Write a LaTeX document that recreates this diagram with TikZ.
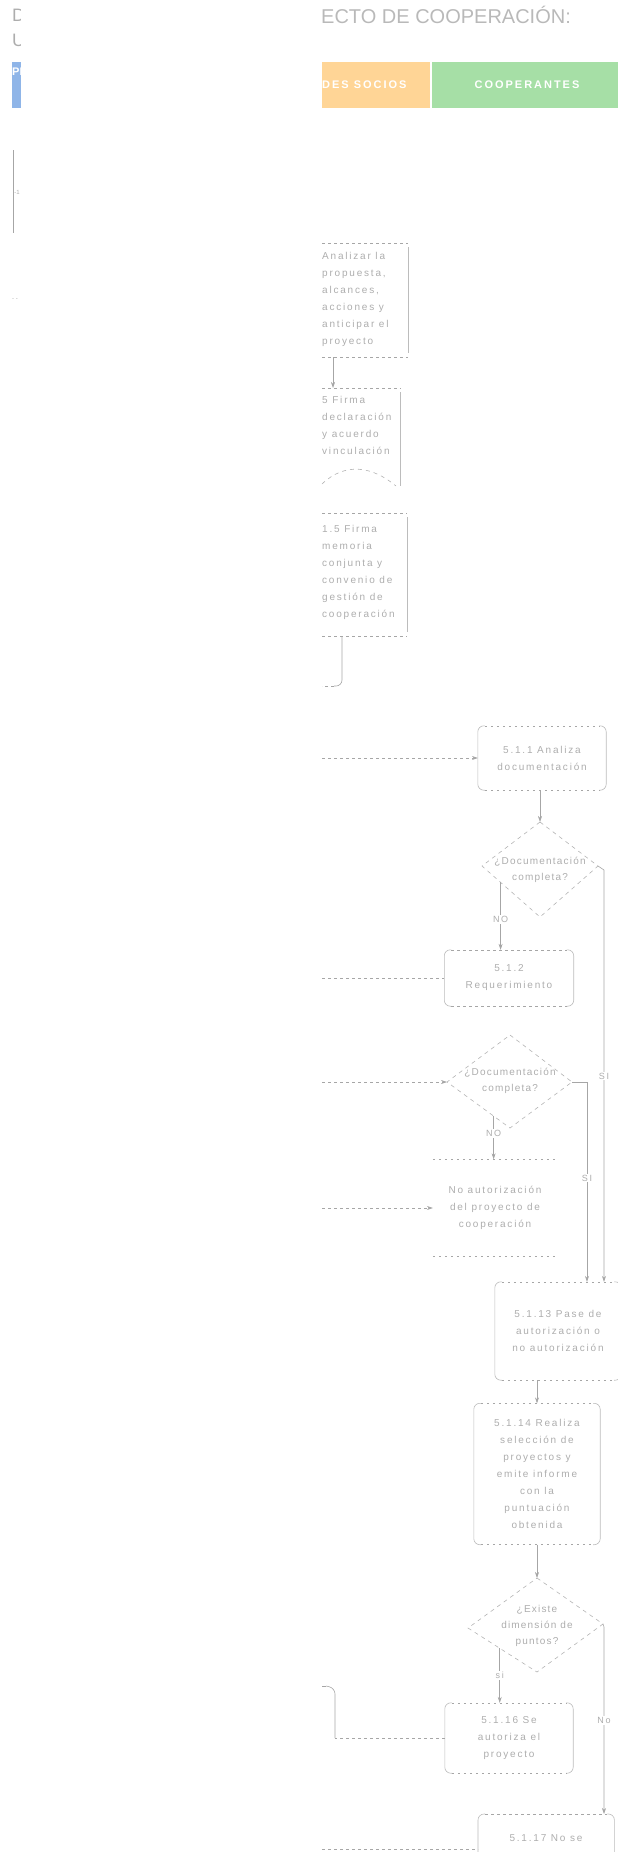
\documentclass[tikz,border=0pt]{standalone}
\usepackage{fontspec}
\setmainfont{Liberation Sans}
\newfontfamily\spc[LetterSpace=18]{Liberation Sans}
\newfontfamily\spd[LetterSpace=12]{Liberation Sans}
\usetikzlibrary{arrows.meta,calc}
\definecolor{txt}{HTML}{ADADAD}
\definecolor{ln}{HTML}{A6A6A6}
\definecolor{lanebl}{HTML}{8FB5E8}
\definecolor{laneor}{HTML}{FFD596}
\definecolor{lanegr}{HTML}{A6DFA6}
\newcommand\mybox[1]{%
  \draw[sd, rounded corners=6pt] ($(#1.north west)+(7,0)$) -- (#1.north west) -- (#1.south west) -- ($(#1.south west)+(7,0)$);
  \draw[sd, rounded corners=6pt] ($(#1.north east)+(-7,0)$) -- (#1.north east) -- (#1.south east) -- ($(#1.south east)+(-7,0)$);
  \draw[dt] ($(#1.north west)+(7,0)$) -- ($(#1.north east)+(-7,0)$);
  \draw[dt] ($(#1.south west)+(7,0)$) -- ($(#1.south east)+(-7,0)$);
}
\begin{document}
\begin{tikzpicture}[x=1pt,y=-1pt,
  t/.style={text=txt, font=\spc\fontsize{10}{17}\selectfont, inner sep=0pt, align=center},
  td/.style={t, font=\spd\fontsize{10}{16}\selectfont},
  tl/.style={t, align=left},
  sd/.style={draw=ln!75, line width=0.6pt},
  sl/.style={draw=ln, line width=0.6pt},
  dt/.style={draw=ln, line width=0.6pt, dash pattern=on 2.5pt off 3.5pt},
  dl/.style={draw=ln, line width=0.6pt, dash pattern=on 3pt off 3pt},
  dd/.style={draw=ln!85, line width=0.6pt, dash pattern=on 4pt off 4pt},
  tip/.style={-{Stealth[length=6pt,width=4pt]}},
  lab/.style={text=txt, font=\spc\fontsize{9}{11}\selectfont, inner sep=1pt, fill=white},
  hold/.style={inner sep=0pt, draw=none},
]
\useasboundingbox (0,0) rectangle (618,1852);
\clip (0,0) rectangle (618,1852);

% ---------- headers ----------
\node[anchor=west, text=txt!85, font=\fontsize{20}{24}\selectfont, inner sep=0pt] (title) at (321,15) {ECTO DE COOPERACIÓN:};
\begin{scope}
  \clip (10,0) rectangle (20,60);
  \node[anchor=west, text=txt, font=\fontsize{18}{20}\selectfont, inner sep=0pt] (lt1) at (12,15) {DI};
  \node[anchor=west, text=txt, font=\fontsize{18}{20}\selectfont, inner sep=0pt] (lt2) at (12,40) {UN};
\end{scope}

\fill[lanebl] (12,62) rectangle (21,108);
\begin{scope}
  \clip (12,62) rectangle (21,108);
  \node[anchor=west, text=white, font=\bfseries\fontsize{11}{13}\selectfont, inner sep=0pt] (lbl) at (12,72) {PR};
\end{scope}
\fill[laneor] (322,62) rectangle (430,108);
\fill[lanegr] (432,62) rectangle (618,108);
\node[anchor=west, text=white, font=\bfseries\spc\fontsize{11}{13}\selectfont, inner sep=0pt] (lor) at (322,85) {DES SOCIOS};
\node[text=white, font=\bfseries\spc\fontsize{11}{13}\selectfont, inner sep=0pt] (lgr) at (527,85) {COOPERANTES};

% ---------- left strip ----------
\coordinate (lsa) at (13,150);
\coordinate (lsb) at (13,233);
\draw[sl] (lsa) -- (lsb);
\node[text=txt, font=\fontsize{6}{7}\selectfont, inner sep=0pt] (lsl) at (17,192) {-1};
\node[text=txt, font=\fontsize{6}{7}\selectfont, inner sep=0pt] (lsd) at (15,300) {- -};

% ---------- clipped left boxes ----------
\node[hold, minimum width=86pt, minimum height=114pt, anchor=north west] (b1) at (322,243) {};
\node[tl, anchor=north west] (b1t) at (322,252) {Analizar la\\propuesta,\\alcances,\\acciones y\\anticipar el\\proyecto};
\draw[dt] (b1.north west) -- (b1.north east);
\draw[dt] (b1.south west) -- (b1.south east);
\draw[sd] ($(b1.north east)+(0,4)$) -- ($(b1.south east)+(0,-4)$);

\node[hold, minimum width=78pt, minimum height=98pt, anchor=north west] (b2) at (322,388) {};
\node[tl, anchor=north west] (b2t) at (322,396) {5 Firma\\declaración\\y acuerdo\\vinculación};
\draw[dt] (b2.north west) -- (b2.north east);
\draw[sd] ($(b2.north east)+(0,4)$) -- (b2.south east);
\draw[dd] (322,484) .. controls (345,462) and (372,466) .. (396,486);

\draw[sl, tip] ($(b1.south west)+(11,0)$) -- ($(b2.north west)+(11,0)$);

\node[hold, minimum width=85pt, minimum height=123pt, anchor=north west] (b3) at (322,513) {};
\node[tl, anchor=north west] (b3t) at (322,525) {1.5 Firma\\memoria\\conjunta y\\convenio de\\gestión de\\cooperación};
\draw[dt] (b3.north west) -- (b3.north east);
\draw[dt] (b3.south west) -- (b3.south east);
\draw[sd] ($(b3.north east)+(0,4)$) -- ($(b3.south east)+(0,-4)$);
\coordinate (c3) at (322,686);
\coordinate (c3a) at (342,686);
\coordinate (c3b) at (334,686);
\draw[sl, rounded corners=6pt] ($(b3.south west)+(20,0)$) -- (c3a) -- (c3b);
\draw[dl] (c3b) -- (c3);

% ---------- 5.1.1 ----------
\node[t, minimum width=128pt, minimum height=64pt] (b4) at (542,758) {5.1.1 Analiza\\documentación};
\mybox{b4}
\coordinate (a4) at (322,758);
\draw[dl, tip] (a4) -- (b4.west);

% ---------- decision 1 ----------
\coordinate (d1n) at (540,822);
\coordinate (d1e) at (598,866);
\coordinate (d1s) at (540,917);
\coordinate (d1w) at (482,866);
\draw[dd] (d1n) -- (d1e) -- (d1s) -- (d1w) -- cycle;
\node[td] (d1) at (540,870) {¿Documentación\\completa?};
\draw[sl, tip] (d1n |- b4.south) -- (d1n);

% ---------- 5.1.2 ----------
\node[t, minimum width=129pt, minimum height=56pt] (b6) at (509,978) {5.1.2\\Requerimiento};
\mybox{b6}
\coordinate (a6) at (322,978);
\draw[dl] (a6) -- (b6.west);
\coordinate (d1no) at ($(d1w)!0.32!(d1s)$);
\draw[sl, tip] (d1no) -- (d1no |- b6.north) node[lab, pos=0.55] (l1) {NO};

% ---------- decision 2 ----------
\coordinate (d2n) at (510,1035);
\coordinate (d2e) at (572,1082);
\coordinate (d2s) at (510,1128);
\coordinate (d2w) at (447,1082);
\draw[dd] (d2n) -- (d2e) -- (d2s) -- (d2w) -- cycle;
\node[td] (d2) at (510,1081) {¿Documentación\\completa?};
\coordinate (a7) at (322,1082);
\draw[dl, tip] (a7) -- (d2w);

% ---------- no autorizacion ----------
\node[t, minimum width=124pt, minimum height=97pt] (b8) at (495,1208) {No autorización\\del proyecto de\\cooperación};
\draw[dt] (b8.north west) -- (b8.north east);
\draw[dt] (b8.south west) -- (b8.south east);
\coordinate (a8) at (322,1208);
\draw[dl, tip] (a8) -- (b8.west);
\coordinate (d2no) at ($(d2w)!0.74!(d2s)$);
\draw[sl, tip] (d2no) -- (d2no |- b8.north) node[lab, pos=0.4] (l2) {NO};

% ---------- 5.1.13 ----------
\node[t, minimum width=126pt, minimum height=98pt] (b9) at (558,1331) {5.1.13 Pase de\\autorización o\\no autorización};
\mybox{b9}
\coordinate (r1) at (604,870);
\coordinate (r2) at (587,1082);
\draw[sl, tip] (d1e) -- (r1) -- (r1 |- b9.north) node[lab, pos=0.5] (l3) {SI};
\draw[sl, tip] (d2e) -- (r2) -- (r2 |- b9.north) node[lab, pos=0.48] (l4) {SI};

% ---------- 5.1.14 ----------
\node[t, minimum width=126pt, minimum height=141pt] (b10) at (537,1474) {5.1.14 Realiza\\selección de\\proyectos y\\emite informe\\con la\\puntuación\\obtenida};
\mybox{b10}
\draw[sl, tip] (b9.south -| b10.north) -- (b10.north);

% ---------- decision 3 ----------
\coordinate (d3n) at (537,1578);
\coordinate (d3e) at (603,1624);
\coordinate (d3s) at (537,1672);
\coordinate (d3w) at (468,1628);
\draw[dd] (d3n) -- (d3e) -- (d3s) -- (d3w) -- cycle;
\node[td] (d3) at (537,1626) {¿Existe\\dimensión de\\puntos?};
\draw[sl, tip] (d3n |- b10.south) -- (d3n);

% ---------- 5.1.16 ----------
\node[t, minimum width=128pt, minimum height=70pt] (b12) at (509,1738) {5.1.16 Se\\autoriza el\\proyecto};
\mybox{b12}
\coordinate (d3si) at ($(d3w)!0.46!(d3s)$);
\draw[sl, tip] (d3si) -- (d3si |- b12.north) node[lab, pos=0.5] (l5) {si};
\coordinate (c12) at (322,1686);
\coordinate (c12a) at (335,1738);
\coordinate (c12b) at (335,1688);
\coordinate (c12c) at (326,1686);
\draw[dl] (b12.west) -- (c12a);
\draw[sl, rounded corners=6pt] (c12a) -- (c12b) -- (c12c);
\draw[sl] (c12c) -- (c12);

% ---------- 5.1.17 ----------
\node[hold, minimum width=136pt, minimum height=90pt, anchor=north west] (b13) at (478,1814) {};
\mybox{b13}
\node[t] (b13t) at (546,1838) {5.1.17 No se};
\coordinate (a13) at (322,1849);
\draw[dl] (a13) -- (b13.west |- a13);
\coordinate (r3) at (604,1627);
\draw[sl, tip] (d3e) -- (r3) -- (r3 |- b13.north) node[lab, pos=0.5] (l6) {No};
\end{tikzpicture}
\end{document}
